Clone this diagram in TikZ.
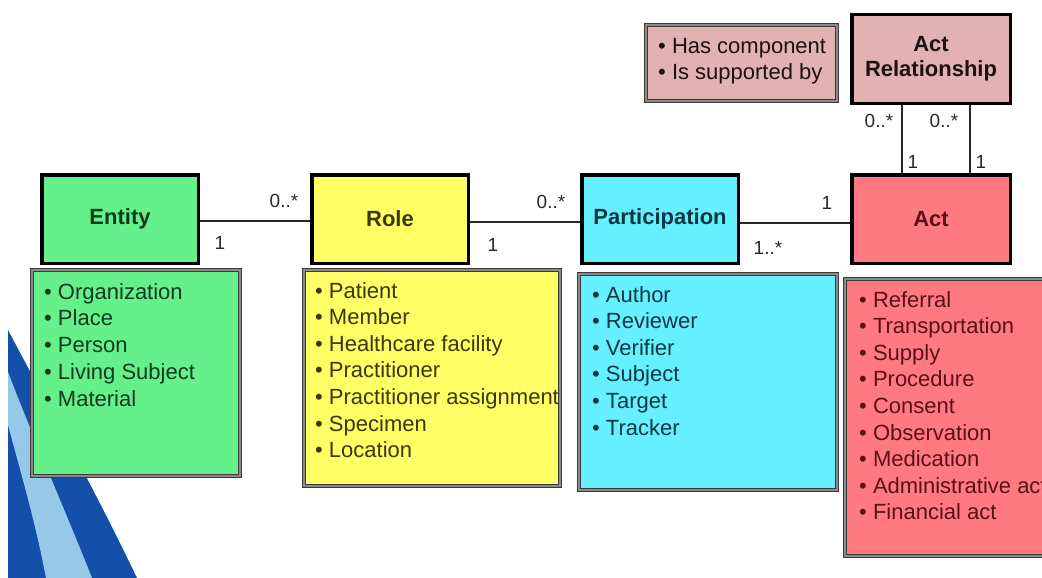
\documentclass[tikz,border=0pt]{standalone}
\usepackage{fontspec}
\setmainfont{Liberation Sans}
\definecolor{entF}{RGB}{102,240,140}
\definecolor{roleF}{RGB}{255,255,102}
\definecolor{partF}{RGB}{102,240,255}
\definecolor{actF}{RGB}{255,122,128}
\definecolor{relF}{RGB}{226,178,178}
\definecolor{entT}{RGB}{12,58,28}
\definecolor{roleT}{RGB}{58,56,8}
\definecolor{partT}{RGB}{8,56,66}
\definecolor{actT}{RGB}{90,16,22}
\definecolor{relT}{RGB}{30,16,16}
\definecolor{bordark}{RGB}{58,58,58}
\definecolor{borgray}{RGB}{138,138,138}
\definecolor{linkc}{RGB}{40,40,40}
\definecolor{swdark}{RGB}{20,80,170}
\definecolor{swlight}{RGB}{150,200,232}
\begin{document}
\begin{tikzpicture}[x=1pt,y=-1pt,
  titlebox/.style={draw=black, line width=3.5pt, minimum width=156.5pt,
    minimum height=88.5pt, inner sep=0pt, align=center,
    font=\fontsize{22}{25}\selectfont\bfseries},
  listbox/.style={draw=bordark, double=borgray, double distance=2pt,
    line width=0.9pt, inner sep=0pt},
  item/.style={anchor=base west, inner sep=0pt,
    font=\fontsize{22}{26}\selectfont},
  mult/.style={inner sep=0pt, text=linkc, font=\fontsize{19}{22}\selectfont},
  link/.style={draw=linkc, line width=2pt}]
\useasboundingbox (0,0) rectangle (1042,578);

% decorative swoosh in the lower left corner
\fill[swdark] (8,330) .. controls (45,400) and (95,490) .. (137,578)
  -- (8,578) -- cycle;
\fill[swlight] (8,372) .. controls (30,430) and (65,510) .. (92,578)
  -- (46,578) .. controls (35,520) and (20,470) .. (8,425) -- cycle;

% class boxes
\node[titlebox, fill=entF, text=entT] (entity) at (120,219) {Entity};
\node[titlebox, fill=roleF, text=roleT] (role) at (390,219) {Role};
\node[titlebox, fill=partF, text=partT] (part) at (660,219) {Participation};
\node[titlebox, fill=actF, text=actT, minimum width=158.5pt] (act) at (931,219) {Act};
\node[titlebox, fill=relF, text=relT, minimum width=158.5pt] (actrel) at (931,59) {Act\\Relationship};

% relationship kinds
\node[listbox, fill=relF, minimum width=191pt, minimum height=76pt] (kinds) at (741.5,63) {};
\node[item, text=relT] (kind-1) at (658,53.5) {\textbullet\ Has component};
\node[item, text=relT] (kind-2) at (658,79.5) {\textbullet\ Is supported by};

% value lists below each class
\node[listbox, fill=entF, minimum width=208pt, minimum height=206pt] (entlist) at (136,373) {};
\node[listbox, fill=roleF, minimum width=256pt, minimum height=216pt] (rolelist) at (432,378) {};
\node[listbox, fill=partF, minimum width=258pt, minimum height=216pt] (partlist) at (708,382) {};
\node[listbox, fill=actF, minimum width=240pt, minimum height=277pt] (actlist) at (965,417.5) {};

\foreach \t [count=\i] in {Organization, Place, Person, Living Subject, Material}
  \node[item, text=entT] (ent-\i) at (44,{299+(\i-1)*26.8}) {\textbullet\ \t};
\foreach \t [count=\i] in {Patient, Member, Healthcare facility, Practitioner,
    Practitioner assignment, Specimen, Location}
  \node[item, text=roleT] (role-\i) at (315,{298+(\i-1)*26.6}) {\textbullet\ \t};
\foreach \t [count=\i] in {Author, Reviewer, Verifier, Subject, Target, Tracker}
  \node[item, text=partT] (part-\i) at (592,{302+(\i-1)*26.6}) {\textbullet\ \t};
\foreach \t [count=\i] in {Referral, Transportation, Supply, Procedure, Consent,
    Observation, Medication, Administrative act, Financial act}
  \node[item, text=actT] (act-\i) at (859,{307+(\i-1)*26.6}) {\textbullet\ \t};

% associations
\draw[link] ([yshift=-2pt]entity.east) -- ([yshift=-2pt]role.west);
\draw[link] ([yshift=-3pt]role.east) -- ([yshift=-3pt]part.west);
\draw[link] ([yshift=-4pt]part.east) -- ([yshift=-4pt]act.west);
\draw[link] (902,0 |- actrel.south) -- (902,0 |- act.north);
\draw[link] (970,0 |- actrel.south) -- (970,0 |- act.north);

% multiplicities
\node[mult] (m1) at (220,243) {1};
\node[mult] (m2) at (284,201) {0..*};
\node[mult] (m3) at (493,245) {1};
\node[mult] (m4) at (551,202) {0..*};
\node[mult] (m5) at (827,203) {1};
\node[mult] (m6) at (768,248) {1..*};
\node[mult] (m7) at (879,121) {0..*};
\node[mult] (m8) at (944,121) {0..*};
\node[mult] (m9) at (913,162) {1};
\node[mult] (m10) at (981,162) {1};
\end{tikzpicture}
\end{document}
